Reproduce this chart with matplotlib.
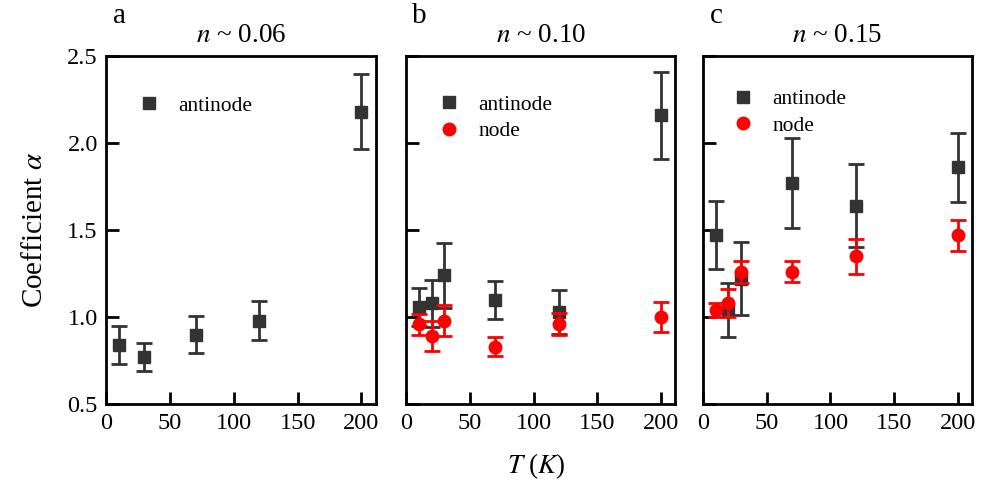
import matplotlib.pyplot as plt
from matplotlib.lines import Line2D

plt.rcParams['font.family'] = ['Liberation Serif', 'DejaVu Serif']
plt.rcParams['mathtext.fontset'] = 'stix'

# temperatures (K)
T_a = [10, 30, 70, 120, 200]
T_bc = [10, 20, 30, 70, 120, 200]

# panel a: n ~ 0.06
anti_a = [0.84, 0.77, 0.90, 0.98, 2.18]
anti_a_err = [0.11, 0.08, 0.105, 0.11, 0.215]

# panel b: n ~ 0.10
anti_b = [1.06, 1.08, 1.24, 1.10, 1.03, 2.16]
anti_b_err = [0.11, 0.135, 0.185, 0.11, 0.125, 0.25]
node_b = [0.96, 0.89, 0.98, 0.83, 0.96, 1.00]
node_b_err = [0.06, 0.085, 0.09, 0.055, 0.065, 0.085]

# panel c: n ~ 0.15
anti_c = [1.47, 1.04, 1.22, 1.77, 1.64, 1.86]
anti_c_err = [0.195, 0.155, 0.21, 0.26, 0.24, 0.2]
node_c = [1.04, 1.08, 1.26, 1.26, 1.35, 1.47]
node_c_err = [0.04, 0.08, 0.065, 0.06, 0.1, 0.09]

letters = ["a", "b", "c"]
titles = ["0.06", "0.10", "0.15"]

dark = "#333333"
red = "#ff0000"

fig = plt.figure(figsize=(9.83, 4.99), dpi=100)
lefts = [0.108, 0.413, 0.715]
axes = [fig.add_axes([l, 0.190, 0.274, 0.698]) for l in lefts]

def draw_anti(ax, T, v, e):
    ax.errorbar(T, v, yerr=e, fmt="s", color=dark, ms=9, elinewidth=2,
                capsize=6, capthick=2, zorder=3)

def draw_node(ax, T, v, e):
    ax.errorbar(T, v, yerr=e, fmt="o", color=red, ms=9, elinewidth=2,
                capsize=6, capthick=2, zorder=4)

draw_anti(axes[0], T_a, anti_a, anti_a_err)
draw_anti(axes[1], T_bc, anti_b, anti_b_err)
draw_node(axes[1], T_bc, node_b, node_b_err)
draw_anti(axes[2], T_bc, anti_c, anti_c_err)
draw_node(axes[2], T_bc, node_c, node_c_err)

h_anti = Line2D([], [], ls="none", marker="s", color=dark, ms=9)
h_node = Line2D([], [], ls="none", marker="o", color=red, ms=9)
leg_handles = [[h_anti], [h_anti, h_node], [h_anti, h_node]]
leg_labels = [["antinode"], ["antinode", "node"], ["antinode", "node"]]
leg_pos = [(0.12, 0.885), (0.12, 0.888), (0.11, 0.905)]

for i, ax in enumerate(axes):
    ax.set_xlim(0, 211)
    ax.set_ylim(0.5, 2.5)
    ax.set_xticks([0, 50, 100, 150, 200])
    ax.set_yticks([0.5, 1.0, 1.5, 2.0, 2.5])
    ax.tick_params(direction="in", length=9, width=2, labelsize=17.5, pad=6)
    for s in ax.spines.values():
        s.set_linewidth(2)
    if i > 0:
        ax.set_yticklabels([])
    else:
        ax.set_yticklabels(["0.5", "1.0", "1.5", "2.0", "2.5"])
    ax.set_title(r"$n$ ~ " + titles[i], fontsize=19.5, pad=10)
    ax.text(0.05, 1.115, letters[i], transform=ax.transAxes, fontsize=21,
            ha="center", va="center")
    ax.legend(leg_handles[i], leg_labels[i], loc="upper left",
              bbox_to_anchor=leg_pos[i], frameon=False, fontsize=15.5,
              handlelength=1.0, handletextpad=0.85,
              labelspacing=0.3, borderaxespad=0, borderpad=0)

axes[0].set_ylabel(r"Coefficient $\alpha$", fontsize=21, labelpad=14)
fig.text(0.546, 0.066, r"$T$ ($K$)", fontsize=19.5, ha="center", va="center")

fig.savefig("out.png", dpi=100)
